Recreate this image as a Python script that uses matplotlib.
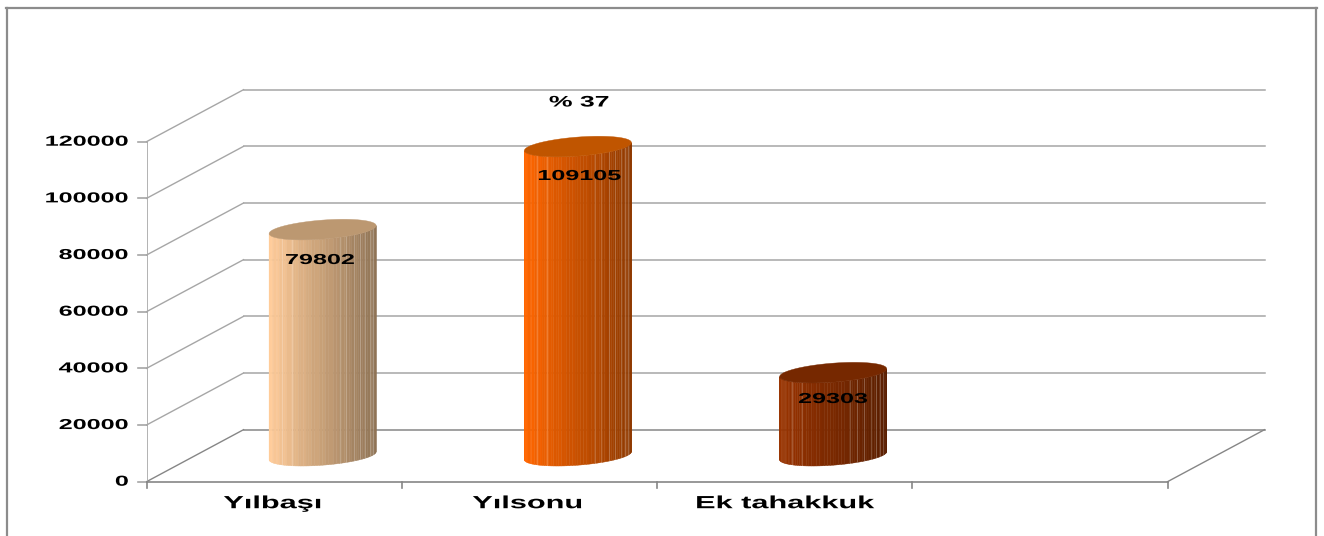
import numpy as np
import matplotlib
matplotlib.use("Agg")
import matplotlib.pyplot as plt
from matplotlib.colors import to_rgb
from matplotlib.lines import Line2D
from matplotlib.patheffects import AbstractPathEffect
from matplotlib.transforms import Affine2D

categories = ["Yılbaşı", "Yılsonu", "Ek tahakkuk"]
values = [79802, 109105, 29303]
value_labels = ["79802", "109105", "29303"]
y_ticks = [0, 20000, 40000, 60000, 80000, 100000, 120000]
n_slots = 4
note = "% 37"

left_cols = ["#FFCC99", "#FF6600", "#993300"]
right_cols = ["#8F7355", "#8F3900", "#5A1E00"]
top_cols = ["#BC9871", "#C05500", "#762800"]

W, H = 1324, 536
x0, x1, y_top, y_bot = 146.5, 1167.5, 141.7, 481.7
grid_col = "#A6A6A6"
dark_col = "#868686"


class Stretch(AbstractPathEffect):
    # the reference image is stretched sideways, so widen the glyphs the same way
    def __init__(self, sx, anchor):
        super().__init__()
        self.sx = sx
        self.anchor = anchor

    def draw_path(self, renderer, gc, tpath, affine, rgbFace=None):
        ext = tpath.get_extents()
        ref = {"center": (ext.x0 + ext.x1) / 2, "right": ext.x1}[self.anchor]
        t = Affine2D().translate(-ref, 0).scale(self.sx, 1).translate(ref, 0)
        renderer.draw_path(gc, tpath, t + affine, rgbFace)


def label(x, y, s, size, anchor="center", z=6):
    ax.text(x, y, s, ha=anchor, va="center", fontsize=size, fontweight="bold",
            family="Liberation Sans", color="black", clip_on=False, zorder=z,
            path_effects=[Stretch(1.74, anchor)])


fig = plt.figure(figsize=(W / 100, H / 100), dpi=100)
ax = fig.add_axes([x0 / W, 1 - y_bot / H, (x1 - x0) / W, (y_bot - y_top) / H])
ax.set_xlim(0, n_slots)
ax.set_ylim(0, 120000)
ax.axis("off")

# size of one pixel in data units, the 3d depth is easier to think of in pixels
px = n_slots / (x1 - x0)
py = 120000 / (y_bot - y_top)
dx = 97 * px
dy = 52 * py

# walls and floor
for v in y_ticks:
    c = dark_col if v == 0 else grid_col
    ax.plot([0, dx], [v, v + dy], color=c, lw=1.0, clip_on=False, zorder=1)
    ax.plot([dx, n_slots + dx], [v + dy, v + dy], color=c, lw=1.1, clip_on=False, zorder=1)
    ax.plot([-9 * px, 0], [v, v], color=grid_col, lw=1.2, clip_on=False, zorder=1)
ax.plot([0, 0], [0, 120000], color=grid_col, lw=1.2, zorder=1)
ax.plot([0, n_slots], [0, 0], color=dark_col, lw=1.2, clip_on=False, zorder=1)
ax.plot([n_slots, n_slots + dx], [0, dy], color=dark_col, lw=1.0, clip_on=False, zorder=1)
for i in range(n_slots + 1):
    ax.plot([i, i], [0, -6 * py], color=dark_col, lw=1.2, clip_on=False, zorder=1)

# cylinders
a = 53.5 * px
b = 9.5 * py
tilt = 4.0 * py
seams = [0.12, 0.21, 0.66, 0.72, 0.79, 0.85, 0.90, 0.94, 0.97]
t_side = np.linspace(np.pi, 2 * np.pi, 61)
t_top = np.linspace(0, 2 * np.pi, 121)


def rim(cx, cy, t):
    return cx + a * np.cos(t), cy + b * np.sin(t) + tilt * np.cos(t)


for i, v in enumerate(values):
    cx = i + 0.5 + dx / 2
    base = dy / 2
    top = v + dy / 2
    xs, ys = rim(cx, base, t_side)
    c1 = np.array(to_rgb(left_cols[i]))
    c2 = np.array(to_rgb(right_cols[i]))
    h = top - base
    for j in range(len(t_side) - 1):
        f = ((xs[j] + xs[j + 1]) / 2 - (cx - a)) / (2 * a)
        f = np.round(f * 16) / 16
        col = c1 + (c2 - c1) * f
        ax.fill([xs[j], xs[j + 1], xs[j + 1], xs[j]],
                [ys[j], ys[j + 1], ys[j + 1] + h, ys[j] + h],
                color=col, lw=0.3, clip_on=False, zorder=3)
    for s in seams:
        u = 2 * s - 1
        sx = cx + a * u
        sy = base - b * np.sqrt(1 - u * u) + tilt * u
        ax.plot([sx, sx], [sy, sy + h], color="white", alpha=0.2, lw=0.8,
                clip_on=False, zorder=4)
    tx, ty = rim(cx, top, t_top)
    ax.fill(tx, ty, color=top_cols[i], lw=0.3, clip_on=False, zorder=5)

value_x = [320, 579.5, 833]
value_y = [260, 176, 399]
for i, s in enumerate(value_labels):
    label((value_x[i] - x0) * px, (y_bot - value_y[i]) * py, s, 10.4)

for v in y_ticks:
    label(-18 * px, v, str(v), 10.4, anchor="right")

label_x = [272.5, 527.5, 785]
for i, c in enumerate(categories):
    label((label_x[i] - x0) * px, -22 * py, c, 12.7)

label((579 - x0) * px, (y_bot - 102.5) * py, note, 11)

# outer frame of the chart area
fr = "#8C8C8C"
for xs, ys in [((7, 7), (8, 536)), ((6, 1317), (8, 8)), ((1316, 1316), (8, 536))]:
    fig.add_artist(Line2D([x / W for x in xs], [1 - y / H for y in ys], color=fr, lw=1.6))

fig.savefig("out.png", dpi=100)
